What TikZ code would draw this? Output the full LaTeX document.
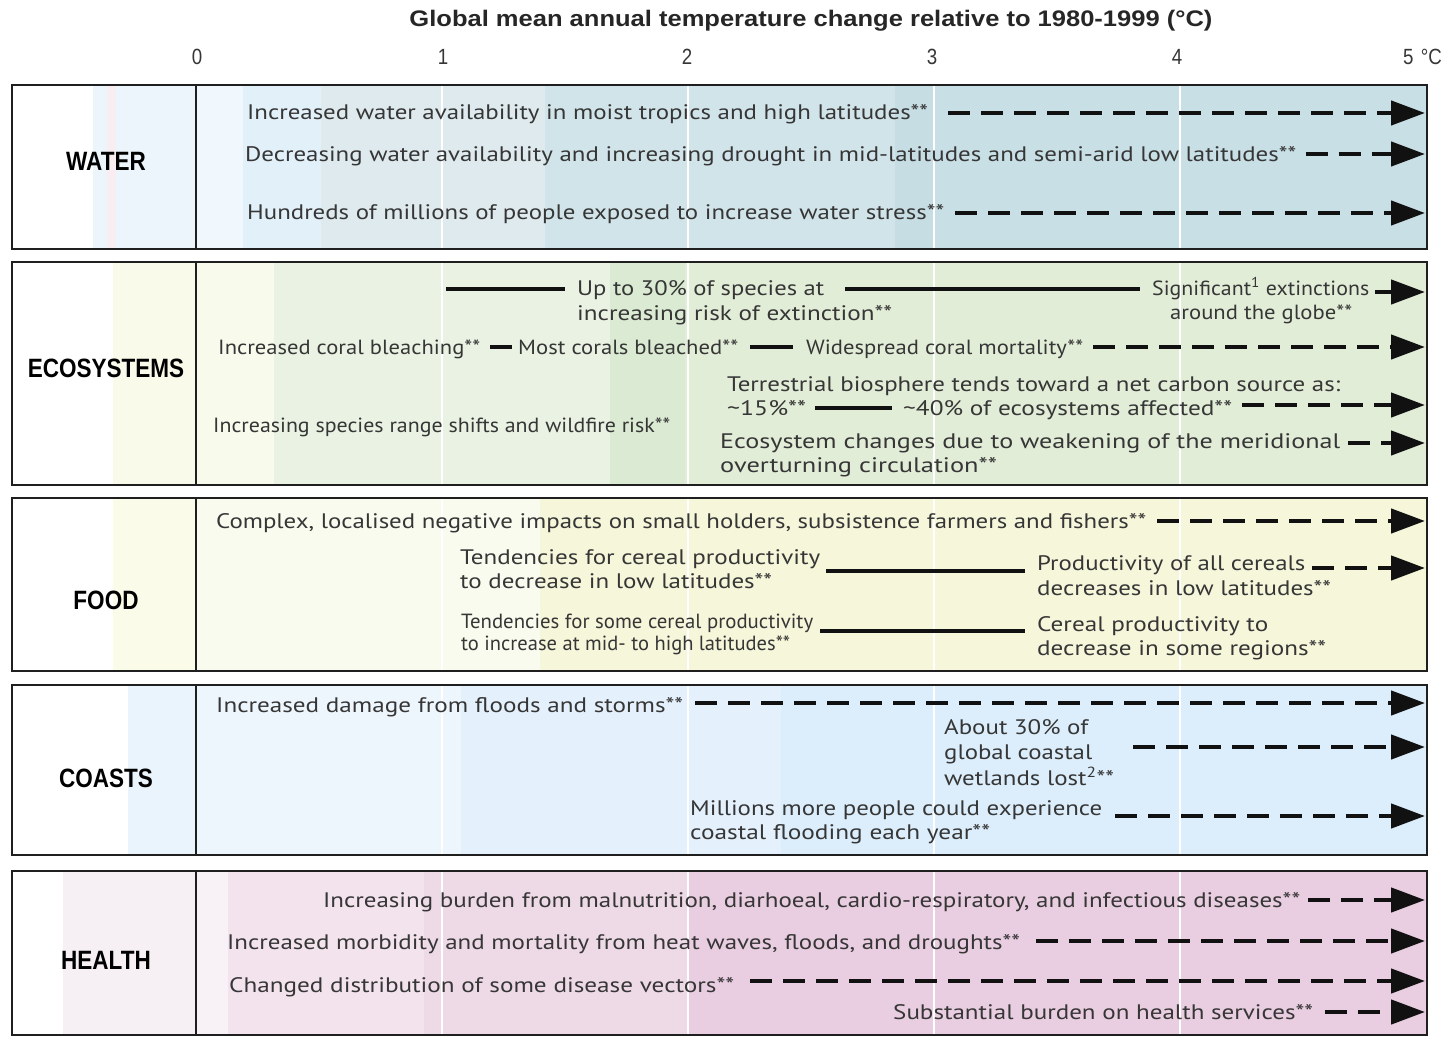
\documentclass[tikz,border=0pt]{standalone}
\usepackage{graphicx}
\usepackage{fontspec}
\usetikzlibrary{arrows.meta,calc}
\setmainfont{PT Sans}
\newfontfamily\titlefont{Liberation Sans}
\newfontfamily\labfont[FakeStretch=0.85]{Liberation Sans}
\newcommand{\fw}[2]{\resizebox{#1pt}{\height}{#2}}
\definecolor{txtc}{HTML}{363636}
\definecolor{lnc}{HTML}{111111}
% water
\definecolor{wA}{HTML}{EDF5FC}\definecolor{wP}{HTML}{F8EEF2}
\definecolor{w1}{HTML}{F0F7FD}\definecolor{w2}{HTML}{E2F0FA}\definecolor{w3}{HTML}{DEEAEE}
\definecolor{w4}{HTML}{D1E4E9}\definecolor{w5}{HTML}{C6DDE3}\definecolor{w6}{HTML}{C8DFE5}
% ecosystems
\definecolor{eA}{HTML}{F9FAEA}\definecolor{e1}{HTML}{F8FAEC}\definecolor{e2}{HTML}{EAF3E3}
\definecolor{e3}{HTML}{DBEAD2}\definecolor{e4}{HTML}{E2EDD8}
% food
\definecolor{fA}{HTML}{FAFBE8}\definecolor{f1}{HTML}{FAFBEF}\definecolor{f2}{HTML}{F5F6DA}
% coasts
\definecolor{cA}{HTML}{EAF4FC}\definecolor{c1}{HTML}{EEF6FD}\definecolor{c2}{HTML}{E4F1FC}\definecolor{c3}{HTML}{DCEEFB}
% health
\definecolor{hA}{HTML}{F6EFF3}\definecolor{h1}{HTML}{F8F1F5}\definecolor{h2}{HTML}{F3E3EC}
\definecolor{h3}{HTML}{EEDAE6}\definecolor{h4}{HTML}{E9CDE0}
\begin{document}
\begin{tikzpicture}[x=1pt,y=-1pt,
  txt/.style={anchor=west,inner sep=0pt,text=txtc,font=\fontsize{21}{25}\selectfont,text height=17pt,text depth=2pt},
  txtn/.style={anchor=west,inner sep=0pt,text=txtc,font=\fontsize{20.5}{24}\selectfont,text height=16.5pt,text depth=2pt},
  lab/.style={font=\labfont\bfseries\fontsize{26.5}{29}\selectfont,text=black,inner sep=0pt},
  tick/.style={font=\labfont\fontsize{22}{24}\selectfont,text=txtc,inner sep=0pt},
  darr/.style={draw=lnc,line width=4.5pt,dash pattern=on 22pt off 11pt,-{Triangle[length=34pt,width=24pt]}},
  sline/.style={draw=lnc,line width=4.5pt},
  frame/.style={draw=black!88,line width=2.5pt},
  grid/.style={draw=white,line width=1.6pt}
]
\useasboundingbox (0,0) rectangle (1452,1041);
\fill[white] (0,0) rectangle (1452,1041);

% ---------- title and ticks ----------
\node[font=\titlefont\bfseries\fontsize{22.5}{25}\selectfont,text=black!85,inner sep=0pt] (title) at (811,21)
  {\fw{803}{Global mean annual temperature change relative to 1980-1999 (°C)}};
\node[tick] (t0) at (197,57) {0};
\node[tick] (t1) at (443,57) {1};
\node[tick] (t2) at (687,57) {2};
\node[tick] (t3) at (932,57) {3};
\node[tick] (t4) at (1177,57) {4};
\node[tick,anchor=west] (t5) at (1403,57) {5\,\,°C};

% ---------- backgrounds ----------
% water 85-249
\fill[wA] (93,85) rectangle (196,249);
\fill[wP] (107,85) rectangle (116,249);
\fill[w1] (196,85) rectangle (243,249);
\fill[w2] (243,85) rectangle (321,249);
\fill[w3] (321,85) rectangle (545,249);
\fill[w4] (545,85) rectangle (895,249);
\fill[w5] (895,85) rectangle (933,249);
\fill[w6] (933,85) rectangle (1427,249);
% ecosystems 262-485
\fill[eA] (113,262) rectangle (196,485);
\fill[e1] (196,262) rectangle (274,485);
\fill[e2] (274,262) rectangle (610,485);
\fill[e3] (610,262) rectangle (685,485);
\fill[e4] (685,262) rectangle (1427,485);
% food 498-671
\fill[fA] (113,498) rectangle (196,671);
\fill[f1] (196,498) rectangle (540,671);
\fill[f2] (540,498) rectangle (1427,671);
% coasts 685-855
\fill[cA] (128,685) rectangle (196,855);
\fill[c1] (196,685) rectangle (461,855);
\fill[c2] (461,685) rectangle (781,855);
\fill[c3] (781,685) rectangle (1427,855);
% health 871-1035
\fill[hA] (63,871) rectangle (196,1035);
\fill[h1] (196,871) rectangle (228,1035);
\fill[h2] (228,871) rectangle (424,1035);
\fill[h3] (424,871) rectangle (689,1035);
\fill[h4] (689,871) rectangle (1427,1035);

% grid lines
\foreach \gx in {442,688,934,1180}{
  \draw[grid] (\gx,86) -- (\gx,248);
  \draw[grid] (\gx,263) -- (\gx,484);
  \draw[grid] (\gx,499) -- (\gx,670);
  \draw[grid] (\gx,686) -- (\gx,854);
  \draw[grid] (\gx,872) -- (\gx,1034);
}

% frames
\foreach \ya/\yb in {85/249,262/485,498/671,685/855,871/1035}{
  \draw[frame] (12,\ya) rectangle (1427,\yb);
  \draw[frame] (196,\ya) -- (196,\yb);
}

% row labels
\node[lab] (lw) at (106,161) {WATER};
\node[lab] (le) at (106,368) {ECOSYSTEMS};
\node[lab] (lf) at (106,600) {FOOD};
\node[lab] (lc) at (106,778) {COASTS};
\node[lab] (lh) at (106,960) {HEALTH};

% ---------- WATER ----------
\node[txt] (w1t) at (247,112) {\fw{681}{Increased water availability in moist tropics and high latitudes**}};
\node[txt] (w2t) at (245,154) {\fw{1051}{Decreasing water availability and increasing drought in mid-latitudes and semi-arid low latitudes**}};
\node[txt] (w3t) at (247,212) {\fw{697}{Hundreds of millions of people exposed to increase water stress**}};
\coordinate (rw1) at (1425,113);
\coordinate (rw2) at (1425,154);
\coordinate (rw3) at (1425,213);
\draw[darr] ($(w1t.east |- rw1)+(20,0)$) -- (rw1);
\draw[darr] ($(w2t.east |- rw2)+(9,0)$) -- (rw2);
\draw[darr] ($(w3t.east |- rw3)+(11,0)$) -- (rw3);

% ---------- ECOSYSTEMS ----------
\node[txt] (e1a) at (577,288) {\fw{247}{Up to 30\% of species at}};
\node[txt] (e1b) at (577,313) {\fw{315}{increasing risk of extinction**}};
\node[txtn] (e2a) at (1152,288) {\fw{217}{Significant\textsuperscript{1} extinctions}};
\node[txtn] (e2b) at (1170,312) {\fw{182}{around the globe**}};
\node[txtn] (e3t) at (218,347) {\fw{262}{Increased coral bleaching**}};
\node[txtn] (e4t) at (518,347) {\fw{220}{Most corals bleached**}};
\node[txtn] (e5t) at (806,347) {\fw{277}{Widespread coral mortality**}};
\node[txt] (e6t) at (727,384) {\fw{613}{Terrestrial biosphere tends toward a net carbon source as:}};
\node[txt] (e7t) at (727,408) {\fw{79}{\textasciitilde 15\%**}};
\node[txt] (e8t) at (903,408) {\fw{329}{\textasciitilde 40\% of ecosystems affected**}};
\node[txtn] (e9t) at (213,425) {\fw{457}{Increasing species range shifts and wildfire risk**}};
\node[txt] (e10a) at (720,441) {\fw{620}{Ecosystem changes due to weakening of the meridional}};
\node[txt] (e10b) at (720,465) {\fw{277}{overturning circulation**}};
\coordinate (es) at (446,289);
\coordinate (re2) at (1425,292);
\coordinate (re5) at (1425,347);
\coordinate (re8) at (1425,405);
\coordinate (re10) at (1425,443);
\draw[sline] (es) -- ($(e1a.west |- es)+(-12,0)$);
\draw[sline] ($(e1a.east |- es)+(21,0)$) -- ($(e2a.west |- es)+(-12,0)$);
\draw[darr] ($(e2a.east |- re2)+(6,0)$) -- (re2);
\draw[sline] ($(e3t.east)+(10,0)$) -- ($(e4t.west)+(-6,0)$);
\draw[sline] ($(e4t.east)+(12,0)$) -- ($(e5t.west)+(-13,0)$);
\draw[darr] ($(e5t.east |- re5)+(10,0)$) -- (re5);
\draw[sline] ($(e7t.east)+(9,0)$) -- ($(e8t.west)+(-11,0)$);
\draw[darr] ($(e8t.east |- re8)+(10,0)$) -- (re8);
\draw[darr] ($(e10a.east |- re10)+(8,0)$) -- (re10);

% ---------- FOOD ----------
\node[txt] (f1t) at (216,521) {\fw{930}{Complex, localised negative impacts on small holders, subsistence farmers and fishers**}};
\node[txt] (f2a) at (460,557) {\fw{360}{Tendencies for cereal productivity}};
\node[txt] (f2b) at (460,581) {\fw{312}{to decrease in low latitudes**}};
\node[txt] (f3a) at (1037,563) {\fw{268}{Productivity of all cereals}};
\node[txt] (f3b) at (1037,588) {\fw{294}{decreases in low latitudes**}};
\node[txtn] (f4a) at (461,621) {\fw{352}{Tendencies for some cereal productivity}};
\node[txtn] (f4b) at (461,643) {\fw{329}{to increase at mid- to high latitudes**}};
\node[txt] (f5a) at (1037,624) {\fw{231}{Cereal productivity to}};
\node[txt] (f5b) at (1037,648) {\fw{289}{decrease in some regions**}};
\coordinate (rf1) at (1425,521);
\coordinate (fy1) at (0,571);
\coordinate (rf3) at (1425,568);
\coordinate (fy2) at (0,631);
\draw[darr] ($(f1t.east |- rf1)+(11,0)$) -- (rf1);
\draw[sline] ($(f2a.east |- fy1)+(6,0)$) -- ($(f3a.west |- fy1)+(-12,0)$);
\draw[darr] ($(f3a.east |- rf3)+(7,0)$) -- (rf3);
\draw[sline] ($(f4a.east |- fy2)+(7,0)$) -- ($(f5a.west |- fy2)+(-12,0)$);

% ---------- COASTS ----------
\node[txt] (c1t) at (216,705) {\fw{467}{Increased damage from floods and storms**}};
\node[txt] (c2a) at (944,727) {\fw{144}{About 30\% of}};
\node[txt] (c2b) at (944,752) {\fw{148}{global coastal}};
\node[txt] (c2c) at (944,778) {\fw{170}{wetlands lost\textsuperscript{2}**}};
\node[txt] (c3a) at (690,808) {\fw{412}{Millions more people could experience}};
\node[txt] (c3b) at (690,832) {\fw{300}{coastal flooding each year**}};
\coordinate (rc1) at (1425,703);
\coordinate (rc2) at (1425,747);
\coordinate (rc3) at (1425,816);
\draw[darr] ($(c1t.east |- rc1)+(12,0)$) -- (rc1);
\draw[darr] ($(c2b.east |- rc2)+(41,0)$) -- (rc2);
\draw[darr] ($(c3a.east |- rc3)+(13,0)$) -- (rc3);

% ---------- HEALTH ----------
\node[txt] (h1t) at (323,900) {\fw{977}{Increasing burden from malnutrition, diarhoeal, cardio-respiratory, and infectious diseases**}};
\node[txt] (h2t) at (227,942) {\fw{793}{Increased morbidity and mortality from heat waves, floods, and droughts**}};
\node[txt] (h3t) at (229,985) {\fw{505}{Changed distribution of some disease vectors**}};
\node[txt] (h4t) at (893,1012) {\fw{420}{Substantial burden on health services**}};
\coordinate (rh1) at (1425,900);
\coordinate (rh2) at (1425,941);
\coordinate (rh3) at (1425,981);
\coordinate (rh4) at (1425,1012);
\draw[darr] ($(h1t.east |- rh1)+(8,0)$) -- (rh1);
\draw[darr] ($(h2t.east |- rh2)+(16,0)$) -- (rh2);
\draw[darr] ($(h3t.east |- rh3)+(16,0)$) -- (rh3);
\draw[darr] ($(h4t.east |- rh4)+(12,0)$) -- (rh4);
\end{tikzpicture}
\end{document}
